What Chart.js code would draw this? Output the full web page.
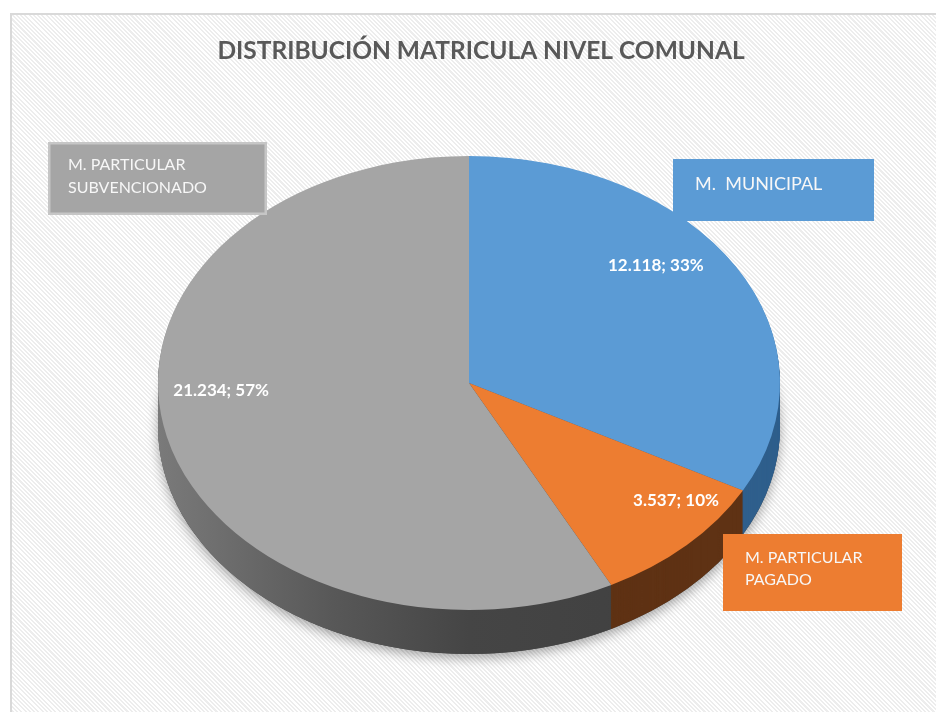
<!DOCTYPE html>
<html>
<head>
<meta charset="utf-8">
<title>Distribución matrícula nivel comunal</title>
<script src="https://cdn.jsdelivr.net/npm/chart.js@4/dist/chart.umd.min.js"></script>
<style>
  html, body { margin: 0; padding: 0; background: #fff; }
  body { width: 936px; height: 712px; position: relative; overflow: hidden; }
  .frame {
    position: absolute; left: 10px; top: 13px; width: 940px; height: 720px;
    border: 2px solid #d9d9d9;
    background: repeating-linear-gradient(45deg, #ffffff 0px, #ffffff 1.5px, #ededed 1.5px, #ededed 3px);
  }
  #chart { position: absolute; left: 0; top: 0; }
</style>
</head>
<body>
<div class="frame"></div>
<canvas id="chart" width="936" height="712"></canvas>
<script>
// --- Data ---
const chartTitle = 'DISTRIBUCIÓN MATRICULA NIVEL COMUNAL';
const categories = [['M.  MUNICIPAL'], ['M. PARTICULAR', 'PAGADO'], ['M. PARTICULAR', 'SUBVENCIONADO']];
const enrolment = [12118, 3537, 21234];

// --- Styles ---
const sliceColors = ['#5b9bd5', '#ed7d31', '#a5a5a5'];
const sideColors = ['#2f5f8c', '#5f3214', null]; // null -> gray gradient
const TILT = 0.73;     // vertical squash of the pie face
const DEPTH = 44;      // thickness of the pie, px
const LABEL_LIFT = -36;
const labelRadius = [0.70, 0.95, 0.82];
const boxes = [
  { x: 673, y: 159, w: 201, h: 62, font: 18, lineH: 24, tx: 695, ty: 184, border: null },
  { x: 723, y: 534, w: 179, h: 77, font: 16, lineH: 22, tx: 745, ty: 558, border: null },
  { x: 48,  y: 142, w: 219, h: 73, font: 16, lineH: 23, tx: 68,  ty: 165, border: '#c6c6c6' }
];

// thousands separator with a dot, like the source sheet
function fmt(v) {
  return String(v).replace(/\B(?=(\d{3})+(?!\d))/g, '.');
}

// whole percentages that add up to 100 (largest remainder)
function percents(values) {
  const total = values.reduce((a, b) => a + b, 0);
  const raw = values.map(v => v * 100 / total);
  const out = raw.map(Math.floor);
  let left = 100 - out.reduce((a, b) => a + b, 0);
  raw.map((r, i) => ({ i, rem: r - Math.floor(r) }))
    .sort((a, b) => b.rem - a.rem)
    .forEach(o => { if (left > 0) { out[o.i]++; left--; } });
  return out;
}
const pct = percents(enrolment);

function tilt(ctx, cx, cy, dy) {
  ctx.translate(cx, cy + dy);
  ctx.scale(1, TILT);
  ctx.translate(-cx, -cy);
}

const pie3d = {
  id: 'pie3d',
  beforeDatasetsDraw(chart) {
    const ctx = chart.ctx;
    const arcs = chart.getDatasetMeta(0).data;
    const cx = arcs[0].x, cy = arcs[0].y, R = arcs[0].outerRadius;

    // soft shadow under the disc
    ctx.save();
    tilt(ctx, cx, cy, DEPTH);
    ctx.shadowColor = 'rgba(0,0,0,0.35)';
    ctx.shadowBlur = 12;
    ctx.shadowOffsetY = 4;
    ctx.beginPath();
    ctx.arc(cx, cy, R, 0, Math.PI * 2);
    ctx.fillStyle = '#444';
    ctx.fill();
    ctx.restore();

    // side wall, stacked layers
    for (let d = DEPTH; d >= 1; d--) {
      ctx.save();
      tilt(ctx, cx, cy, d);
      arcs.forEach((a, i) => {
        let fill = sideColors[i];
        if (!fill) {
          fill = ctx.createLinearGradient(cx - R, 0, cx + R, 0);
          fill.addColorStop(0, '#7a7a7a');
          fill.addColorStop(0.28, '#585858');
          fill.addColorStop(0.5, '#454545');
          fill.addColorStop(1, '#3e3e3e');
        }
        ctx.beginPath();
        ctx.moveTo(cx, cy);
        ctx.arc(cx, cy, R, a.startAngle, a.endAngle);
        ctx.closePath();
        ctx.fillStyle = fill;
        ctx.fill();
      });
      ctx.restore();
    }

    // top face: let Chart.js draw its arcs inside the squashed frame
    ctx.save();
    tilt(ctx, cx, cy, 0);
  },
  afterDatasetsDraw(chart) {
    const ctx = chart.ctx;
    ctx.restore();

    const arcs = chart.getDatasetMeta(0).data;
    ctx.save();
    ctx.fillStyle = '#ffffff';
    ctx.font = 'bold 17px Lato';
    ctx.textAlign = 'center';
    ctx.textBaseline = 'middle';
    arcs.forEach((a, i) => {
      const mid = (a.startAngle + a.endAngle) / 2;
      const r = a.outerRadius * labelRadius[i];
      const x = a.x + Math.cos(mid) * r;
      const y = a.y + Math.sin(mid) * r * TILT + LABEL_LIFT;
      ctx.fillText(fmt(enrolment[i]) + '; ' + pct[i] + '%', x, y);
    });
    ctx.restore();
  },
  afterDraw(chart) {
    const ctx = chart.ctx;
    ctx.save();
    // title
    ctx.fillStyle = '#595959';
    ctx.font = 'bold 24.5px Lato';
    ctx.textAlign = 'center';
    ctx.textBaseline = 'middle';
    ctx.fillText(chartTitle, 481, 51);

    // category boxes
    chart.data.labels.forEach((lines, i) => {
      const b = boxes[i];
      ctx.fillStyle = sliceColors[i];
      ctx.fillRect(b.x, b.y, b.w, b.h);
      if (b.border) {
        ctx.strokeStyle = b.border;
        ctx.lineWidth = 2.5;
        ctx.strokeRect(b.x + 1.25, b.y + 1.25, b.w - 2.5, b.h - 2.5);
      }
      ctx.fillStyle = '#f7f7f7';
      ctx.font = b.font + 'px Lato';
      ctx.textAlign = 'left';
      ctx.textBaseline = 'middle';
      lines.forEach((t, j) => ctx.fillText(t, b.tx, b.ty + j * b.lineH));
    });
    ctx.restore();
  }
};

new Chart(document.getElementById('chart'), {
  type: 'pie',
  data: {
    labels: categories,
    datasets: [{
      data: enrolment,
      backgroundColor: sliceColors,
      borderWidth: 0,
      hoverOffset: 0,
      offset: 0
    }]
  },
  options: {
    responsive: false,
    animation: false,
    layout: { padding: { left: 158, right: 156, top: 72, bottom: 18 } },
    plugins: {
      legend: { display: false },
      title: { display: false },
      tooltip: { enabled: false }
    }
  },
  plugins: [pie3d]
});
</script>
</body>
</html>
